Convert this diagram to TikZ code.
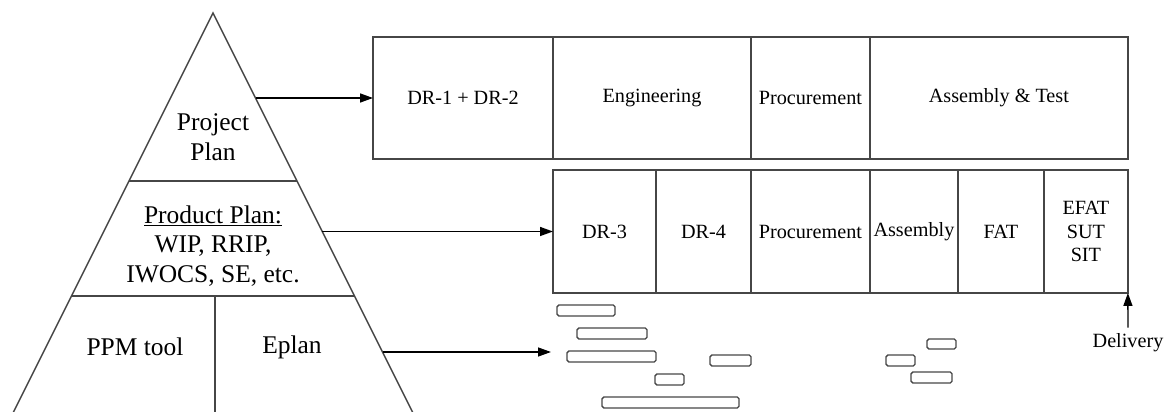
\documentclass[tikz,border=0pt]{standalone}
\usepackage{fontspec}
\setmainfont{Liberation Serif}
\usetikzlibrary{positioning,arrows.meta}
\definecolor{lineclr}{RGB}{70,70,70}
\tikzset{
  cell/.style={rectangle,draw=lineclr,line width=0.8pt,inner sep=1pt,
               outer sep=0pt,align=center,font=\fontsize{11.5}{13.6}\selectfont},
  toprow/.style={cell,minimum height=2.44cm},
  botrow/.style={cell,minimum height=2.46cm},
  pyr/.style={draw=lineclr,line width=0.8pt},
  lvl/.style={align=center,font=\fontsize{14.5}{17}\selectfont},
  flow/.style={-{Triangle[length=2.6mm,width=1.8mm]},line width=0.8pt,draw=black},
  bar/.style={draw=lineclr,line width=0.8pt,rounded corners=1pt},
}

\begin{document}
\begin{tikzpicture}[x=0.02cm, y=-0.02cm, node distance=0pt]
\useasboundingbox (0,0) rectangle (1171,412);
% pyramid
\coordinate (apex) at (213,13);
\draw[pyr] (13,413) -- (apex) -- (413,413);
\draw[pyr] (129,181) -- (297,181);
\draw[pyr] (71,296) -- (355,296);
\draw[pyr] (215,296) -- (215,413);
\node[lvl] (projplan) at (213,137) {Project\\Plan};
\node[lvl] (prodplan) at (213,246) {\underline{Product Plan:}\\WIP, RRIP,\\IWOCS, SE, etc.};
\node[lvl] (ppm) at (135,347) {PPM tool};
\node[lvl] (eplan) at (292,347) {Eplan};
% project phases
\node[toprow, minimum width=3.6cm] (dr12) at (463,98) {DR-1 + DR-2};
\node[toprow, minimum width=3.96cm, right=of dr12] (eng) {Engineering};
\node[toprow, minimum width=2.38cm, right=of eng] (proc1) {Procurement};
\node[toprow, minimum width=5.16cm, right=of proc1] (asmtest) {Assembly \& Test};
% product phases
\node[botrow, minimum width=2.06cm] (dr3) at (604.5,231.5) {DR-3};
\node[botrow, minimum width=1.9cm, right=of dr3] (dr4) {DR-4};
\node[botrow, minimum width=2.38cm, right=of dr4] (proc2) {Procurement};
\node[botrow, minimum width=1.76cm, right=of proc2] (assy) {Assembly};
\node[botrow, minimum width=1.72cm, right=of assy] (fat) {FAT};
\node[botrow, minimum width=1.68cm, right=of fat] (efat) {EFAT\\SUT\\SIT};
\node[font=\fontsize{11.5}{13}\selectfont] (dlv) at (1128,343) {Delivery};
% arrows
\coordinate (pjout) at (256,98);
\coordinate (ppout) at (322,231.5);
\coordinate (tlout) at (383,352);
\coordinate (barin) at (551,352);
\draw[flow] (pjout) -- (dr12.west);
\draw[flow] (ppout) -- (dr3.west);
\draw[flow] (tlout) -- (barin);
\draw[flow] (dlv.north) -- (efat.south east);
% tool tasks
\draw[bar] (557,305) rectangle (615,316);
\draw[bar] (577,328) rectangle (647,339);
\draw[bar] (567,351) rectangle (656,362);
\draw[bar] (710,355) rectangle (751,366);
\draw[bar] (655,374) rectangle (684,385);
\draw[bar] (602,397) rectangle (739,408);
\draw[bar] (927,339) rectangle (956,349);
\draw[bar] (886,355) rectangle (915,366);
\draw[bar] (911,372) rectangle (952,383);
\end{tikzpicture}
\end{document}
